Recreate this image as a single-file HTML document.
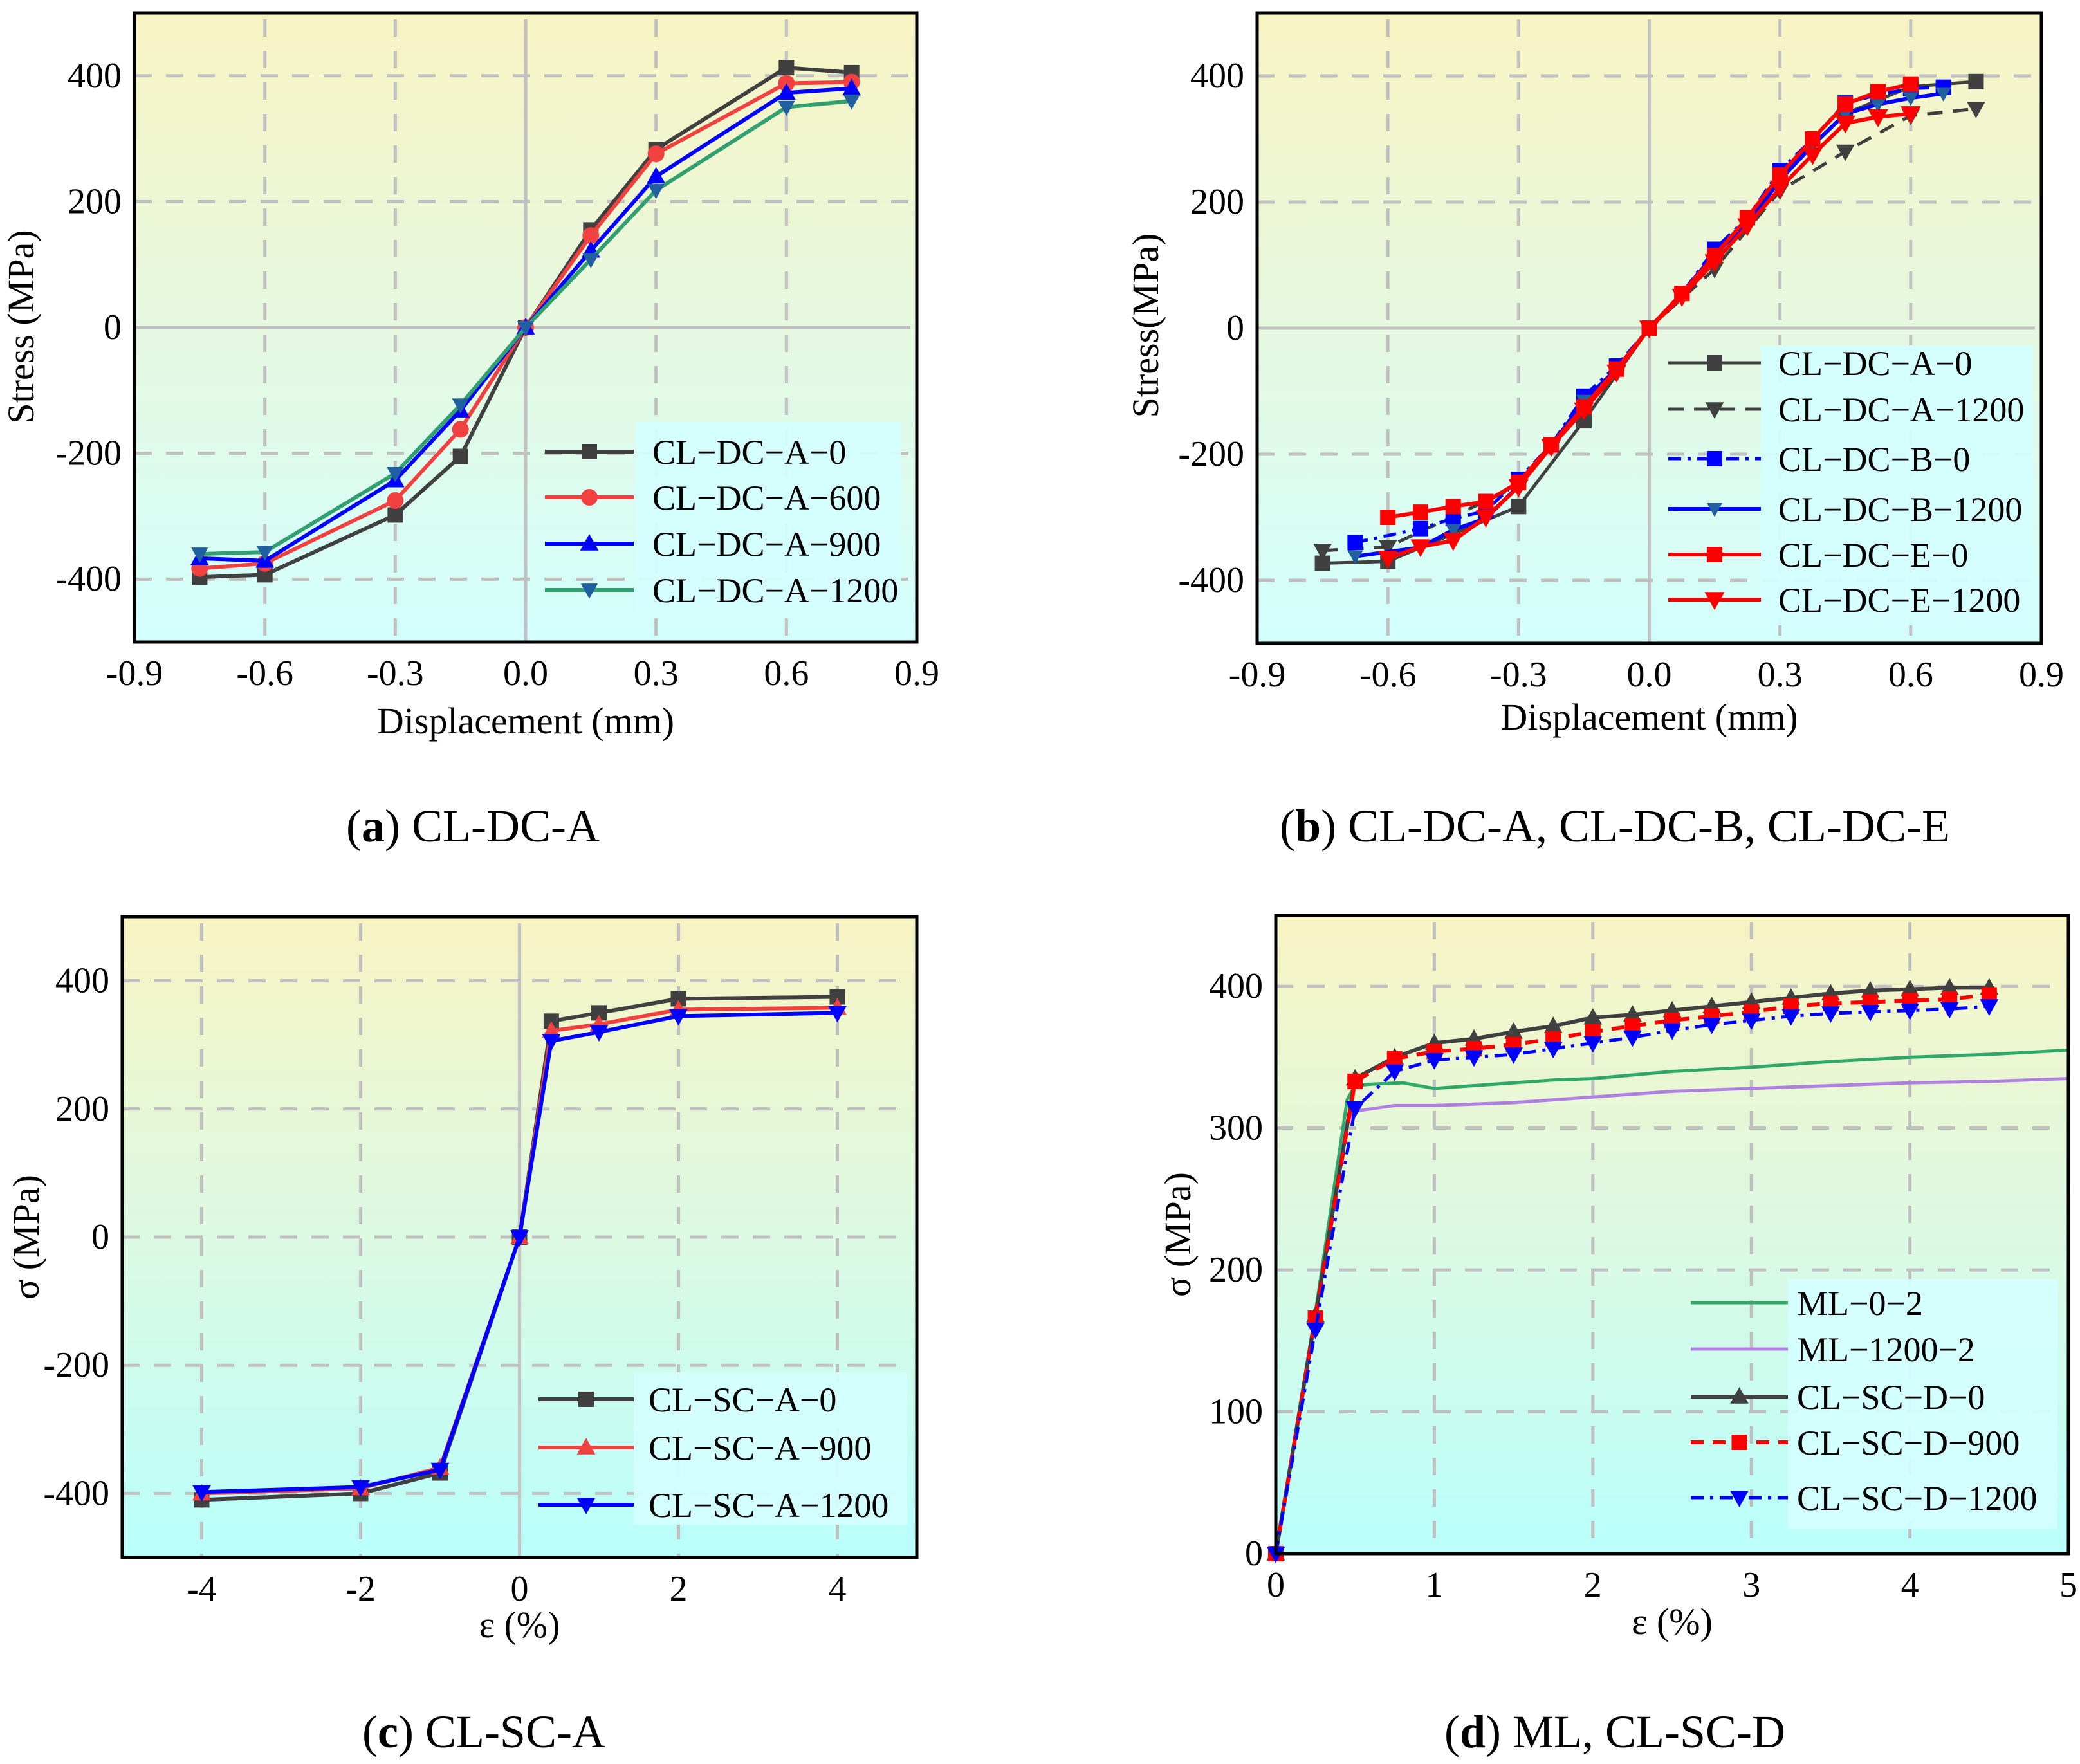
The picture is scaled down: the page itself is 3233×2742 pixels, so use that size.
<!DOCTYPE html>
<html><head><meta charset="utf-8"><title>Stress curves</title>
<style>
html,body{margin:0;padding:0;background:#fff;}
svg{display:block;}
svg text{font-family:"Liberation Serif","DejaVu Serif",serif;}
</style></head>
<body>
<svg id="fig" width="3233" height="2742" viewBox="0 0 3233 2742" xmlns="http://www.w3.org/2000/svg" font-family="Liberation Serif, DejaVu Serif, serif">
<defs>
<linearGradient id="bg1" x1="0" y1="0" x2="0" y2="1">
<stop offset="0" stop-color="#f8f4c3"/><stop offset="0.5" stop-color="#e6f8e0"/><stop offset="1" stop-color="#d2fffd"/>
</linearGradient>
<linearGradient id="bg2" x1="0" y1="0" x2="0" y2="1">
<stop offset="0" stop-color="#f8f4c3"/><stop offset="0.5" stop-color="#dcf9e3"/><stop offset="1" stop-color="#b9fffb"/>
</linearGradient>
</defs>
<g id="root"></g>
</svg>
<script>
// ---------- Panel (a) data ----------
const aX = [-0.75,-0.6,-0.3,-0.15,0,0.15,0.3,0.6,0.75];
const aA0 = [-397,-393,-298,-205,0,155,283,413,405];
const aA600 = [-383,-375,-275,-162,0,146,276,388,390];
const aA900 = [-367,-371,-243,-132,0,122,240,373,380];
const aA1200 = [-360,-357,-232,-123,0,108,218,350,360];
const aXTicks = [-0.9,-0.6,-0.3,0.0,0.3,0.6,0.9];
const aXTickLabels = ["-0.9","-0.6","-0.3","0.0","0.3","0.6","0.9"];
const aYTicks = [-400,-200,0,200,400];

// ---------- Panel (b) data ----------
const bAX = [-0.75,-0.6,-0.3,-0.15,0,0.15,0.3,0.45,0.6,0.75];
const bA0 = [-373,-370,-283,-147,0,112,240,340,383,391];
const bA1200 = [-353,-347,-250,-130,0,94,218,280,337,348];
const bBX = [-0.675,-0.525,-0.45,-0.375,-0.3,-0.225,-0.15,-0.075,0,0.075,0.15,0.225,0.3,0.375,0.45,0.525,0.6,0.675];
const bB0 = [-340,-318,-302,-290,-240,-185,-108,-60,0,55,125,175,250,300,357,370,380,382];
const bB1200 = [-362,-348,-320,-302,-250,-187,-115,-65,0,55,118,165,235,290,340,355,365,372];
const bEX = [-0.6,-0.525,-0.45,-0.375,-0.3,-0.225,-0.15,-0.075,0,0.075,0.15,0.225,0.3,0.375,0.45,0.525,0.6];
const bE0 = [-300,-292,-283,-275,-245,-185,-125,-65,0,55,115,175,243,300,355,375,387];
const bE1200 = [-365,-347,-337,-300,-252,-188,-130,-70,0,50,105,162,222,275,325,335,340];

// ---------- Panel (c) data ----------
const cX = [-4,-2,-1,0,0.4,1,2,4];
const cA0 = [-410,-400,-368,0,337,350,372,375];
const cA900 = [-400,-392,-360,0,322,332,355,358];
const cA1200 = [-398,-390,-363,0,306,320,345,350];
const cXTicks = [-4,-2,0,2,4];
const cYTicks = [-400,-200,0,200,400];

// ---------- Panel (d) data ----------
const dX = [0,0.25,0.5,0.75,1,1.25,1.5,1.75,2,2.25,2.5,2.75,3,3.25,3.5,3.75,4,4.25,4.5];
const dD0 = [0,168,335,350,360,363,368,372,378,380,383,386,389,392,395,397,398,399,399];
const dD900 = [0,166,333,349,354,356,359,363,368,372,376,379,382,386,388,389,390,391,394];
const dD1200 = [0,158,314,340,348,350,352,356,360,364,369,373,376,379,381,382,383,384,386];
const dMLX = [0,0.25,0.45,0.5,0.6,0.8,1,1.25,1.5,1.75,2,2.5,3,3.5,4,4.5,5];
const dML0 = [0,170,320,330,331,332,328,330,332,334,335,340,343,347,350,352,355];
const dML1200X = [0,0.25,0.45,0.5,0.75,1,1.5,2,2.5,3,3.5,4,4.5,5];
const dML1200 = [0,165,305,312,316,316,318,322,326,328,330,332,333,335];
const dXTicks = [0,1,2,3,4,5];
const dYTicks = [0,100,200,300,400];

const NS = "http://www.w3.org/2000/svg";
const FONT = '"Liberation Serif","DejaVu Serif",serif';
const root = document.getElementById('root');
function mk(tag, attrs, parent){
  const e = document.createElementNS(NS, tag);
  for (const k in attrs) e.setAttribute(k, attrs[k]);
  if (tag === 'text') e.setAttribute('font-family', FONT);
  (parent||root).appendChild(e);
  return e;
}
function panel(p){
  const g = mk('g', {});
  
  
  const sx = v => p.L + (v - p.x0)/(p.x1 - p.x0)*(p.R - p.L);
  const sy = v => p.B - (v - p.y0)/(p.y1 - p.y0)*(p.B - p.T);
  p.sx = sx; p.sy = sy;
  const bg = mk('rect', {x:p.L, y:p.T, width:p.R-p.L, height:p.B-p.T, fill:p.bg}, g);
  
  
  p.xt.forEach((v,i) => {
    const solid = p.solidX0 && v === 0;
    if (v === p.x0 || v === p.x1) return;
    const ln = mk('line', {x1:sx(v), x2:sx(v), y1:p.T+10, y2:p.B, stroke:'#c0c0c0', 'stroke-width':5, 'stroke-dasharray': solid ? 'none' : '27 22'}, g);
    
    
  });
  p.yt.forEach(v => {
    const solid = p.solidY0 && v === 0;
    if (v === p.y0) return;
    const ln = mk('line', {x1:p.L, x2:p.R-10, y1:sy(v), y2:sy(v), stroke:'#c0c0c0', 'stroke-width':5, 'stroke-dasharray': solid ? 'none' : '27 22'}, g);
    
    
  });
  p.xt.forEach((v,i) => {
    const t = mk('text', {x:sx(v), y:p.B+67, 'font-size':56, 'text-anchor':'middle', fill:'#000'}, g);
    t.textContent = p.xl ? p.xl[i] : String(v);
    
    
  });
  p.yt.forEach(v => {
    const t = mk('text', {x:p.L-20, y:sy(v)+18, 'font-size':56, 'text-anchor':'end', fill:'#000'}, g);
    t.textContent = String(v);
    
    
  });
  p.series.forEach(s => drawSeries(g, p, s));
  const fr = mk('rect', {x:p.L, y:p.T, width:p.R-p.L, height:p.B-p.T, fill:'none', stroke:'#000', 'stroke-width':5}, g);
  
  
  const xt = mk('text', {x:(p.L+p.R)/2, y:p.xTitleY, 'font-size':58, 'text-anchor':'middle'}, g);
  xt.textContent = p.xTitle;
  
  
  const yt = mk('text', {x:0, y:0, 'font-size':58, 'text-anchor':'middle', transform:`translate(${p.yTitleX},${p.yTitleY}) rotate(-90)`}, g);
  yt.textContent = p.yTitle;
  
  
  const lg = mk('g', {}, g);
  
  
  const lb = mk('rect', {x:p.leg.bx, y:p.leg.by, width:p.leg.bw, height:p.leg.bh, fill:'#d4fffe', opacity:0.92}, lg);
  
  
  p.series.forEach((s,i) => {
    const y = p.leg.rows[i];
    const e = mk('g', {}, lg);
    
    
    mk('line', {x1:p.leg.lx0, x2:p.leg.lx1, y1:y, y2:y, stroke:s.color, 'stroke-width':s.lw||6, 'stroke-dasharray':s.dash||'none'}, e);
    marker(e, s.marker, (p.leg.lx0+p.leg.lx1)/2, y, s.mcolor||s.color, s.ms||24);
    const t = mk('text', {x:p.leg.tx, y:y+19, 'font-size':54}, e);
    t.textContent = s.label;
  });
  const cap = mk('text', {x:p.capX, y:p.capY, 'font-size':72, 'text-anchor':'middle'}, g);
  cap.innerHTML = '(<tspan font-weight="bold">'+p.capL+'</tspan>) '+p.capT;
  
  
}
function marker(g, type, x, y, c, s){
  if (!type) return;
  let m;
  if (type === 'sq') m = mk('rect', {x:x-s/2, y:y-s/2, width:s, height:s, fill:c}, g);
  else if (type === 'ci') m = mk('circle', {cx:x, cy:y, r:s/2+1, fill:c}, g);
  else if (type === 'up') m = mk('polygon', {points:`${x},${y-s*0.62} ${x-s*0.6},${y+s*0.45} ${x+s*0.6},${y+s*0.45}`, fill:c}, g);
  else if (type === 'dn') m = mk('polygon', {points:`${x},${y+s*0.62} ${x-s*0.6},${y-s*0.45} ${x+s*0.6},${y-s*0.45}`, fill:c}, g);
  if (m) {
    
    
  }
}
function drawSeries(g, p, s){
  const sg = mk('g', {}, g);
  
  
  const pts = s.x.map((v,i) => p.sx(v).toFixed(1)+','+p.sy(s.y[i]).toFixed(1)).join(' ');
  const pl = mk('polyline', {points:pts, fill:'none', stroke:s.color, 'stroke-width':s.lw||6, 'stroke-linejoin':'round', 'stroke-dasharray':s.dash||'none'}, sg);
  
  
  if (s.marker) s.x.forEach((v,i) => marker(sg, s.marker, p.sx(v), p.sy(s.y[i]), s.mcolor||s.color, s.ms||24));
}

panel({name:'panel-a', L:209, R:1425, T:20, B:998, x0:-0.9, x1:0.9, y0:-500, y1:500, bg:'url(#bg1)',
  xt:aXTicks, xl:aXTickLabels, yt:aYTicks, solidX0:true, solidY0:true,
  xTitle:'Displacement (mm)', xTitleY:1140, yTitle:'Stress (MPa)', yTitleX:52, yTitleY:508,
  capX:735, capY:1308, capL:'a', capT:'CL-DC-A',
  leg:{bx:988, by:656, bw:412, bh:294, lx0:847, lx1:985, tx:1014, rows:[702,773,845,917]},
  series:[
    {label:'CL−DC−A−0', x:aX, y:aA0, color:'#404040', marker:'sq'},
    {label:'CL−DC−A−600', x:aX, y:aA600, color:'#f04040', marker:'ci'},
    {label:'CL−DC−A−900', x:aX, y:aA900, color:'#0000ff', marker:'up'},
    {label:'CL−DC−A−1200', x:aX, y:aA1200, color:'#30a070', mcolor:'#2060a0', marker:'dn', ms:22}
  ]});

panel({name:'panel-b', L:1954, R:3173, T:20, B:1000, x0:-0.9, x1:0.9, y0:-500, y1:500, bg:'url(#bg1)',
  xt:aXTicks, xl:aXTickLabels, yt:aYTicks, solidX0:true, solidY0:true,
  xTitle:'Displacement (mm)', xTitleY:1134, yTitle:'Stress(MPa)', yTitleX:1800, yTitleY:506,
  capX:2510, capY:1308, capL:'b', capT:'CL-DC-A, CL-DC-B, CL-DC-E',
  leg:{bx:2737, by:537, bw:423, bh:435, lx0:2593, lx1:2737, tx:2764, rows:[564,636,713,791,862,932]},
  series:[
    {label:'CL−DC−A−0', x:bAX, y:bA0, color:'#404040', marker:'sq', lw:5},
    {label:'CL−DC−A−1200', x:bAX, y:bA1200, color:'#404040', marker:'dn', dash:'24 16', lw:5},
    {label:'CL−DC−B−0', x:bBX, y:bB0, color:'#0000ff', marker:'sq', dash:'20 10 5 10', lw:5},
    {label:'CL−DC−B−1200', x:bBX, y:bB1200, color:'#0000ff', mcolor:'#2060a0', marker:'dn', lw:6, ms:20},
    {label:'CL−DC−E−0', x:bEX, y:bE0, color:'#ff0000', marker:'sq', lw:6},
    {label:'CL−DC−E−1200', x:bEX, y:bE1200, color:'#ff0000', marker:'dn', lw:6, ms:26}
  ]});

panel({name:'panel-c', L:190, R:1425, T:1425, B:2421, x0:-5, x1:5, y0:-500, y1:500, bg:'url(#bg2)',
  xt:cXTicks, yt:cYTicks, solidX0:true, solidY0:false,
  xTitle:'ε (%)', xTitleY:2545, yTitle:'σ (MPa)', yTitleX:60, yTitleY:1923,
  capX:752, capY:2716, capL:'c', capT:'CL-SC-A',
  leg:{bx:985, by:2133, bw:425, bh:237, lx0:837, lx1:985, tx:1008, rows:[2175,2250,2339]},
  series:[
    {label:'CL−SC−A−0', x:cX, y:cA0, color:'#404040', marker:'sq'},
    {label:'CL−SC−A−900', x:cX, y:cA900, color:'#f04040', marker:'up'},
    {label:'CL−SC−A−1200', x:cX, y:cA1200, color:'#0000ff', marker:'dn'}
  ]});

panel({name:'panel-d', L:1983, R:3215, T:1423, B:2415, x0:0, x1:5, y0:0, y1:450, bg:'url(#bg2)',
  xt:dXTicks, yt:dYTicks, solidX0:false, solidY0:false,
  xTitle:'ε (%)', xTitleY:2540, yTitle:'σ (MPa)', yTitleX:1850, yTitleY:1919,
  capX:2510, capY:2716, capL:'d', capT:'ML, CL-SC-D',
  leg:{bx:2779, by:1988, bw:419, bh:388, lx0:2628, lx1:2779, tx:2793, rows:[2025,2097,2171,2242,2328]},
  series:[
    {label:'ML−0−2', x:dMLX, y:dML0, color:'#30a868', lw:5},
    {label:'ML−1200−2', x:dML1200X, y:dML1200, color:'#b080e0', lw:5},
    {label:'CL−SC−D−0', x:dX, y:dD0, color:'#404040', marker:'up', lw:6},
    {label:'CL−SC−D−900', x:dX, y:dD900, color:'#ff0000', marker:'sq', dash:'20 14', lw:6},
    {label:'CL−SC−D−1200', x:dX, y:dD1200, color:'#0000ff', marker:'dn', dash:'20 10 5 10', lw:5}
  ]});
</script>
</body></html>
